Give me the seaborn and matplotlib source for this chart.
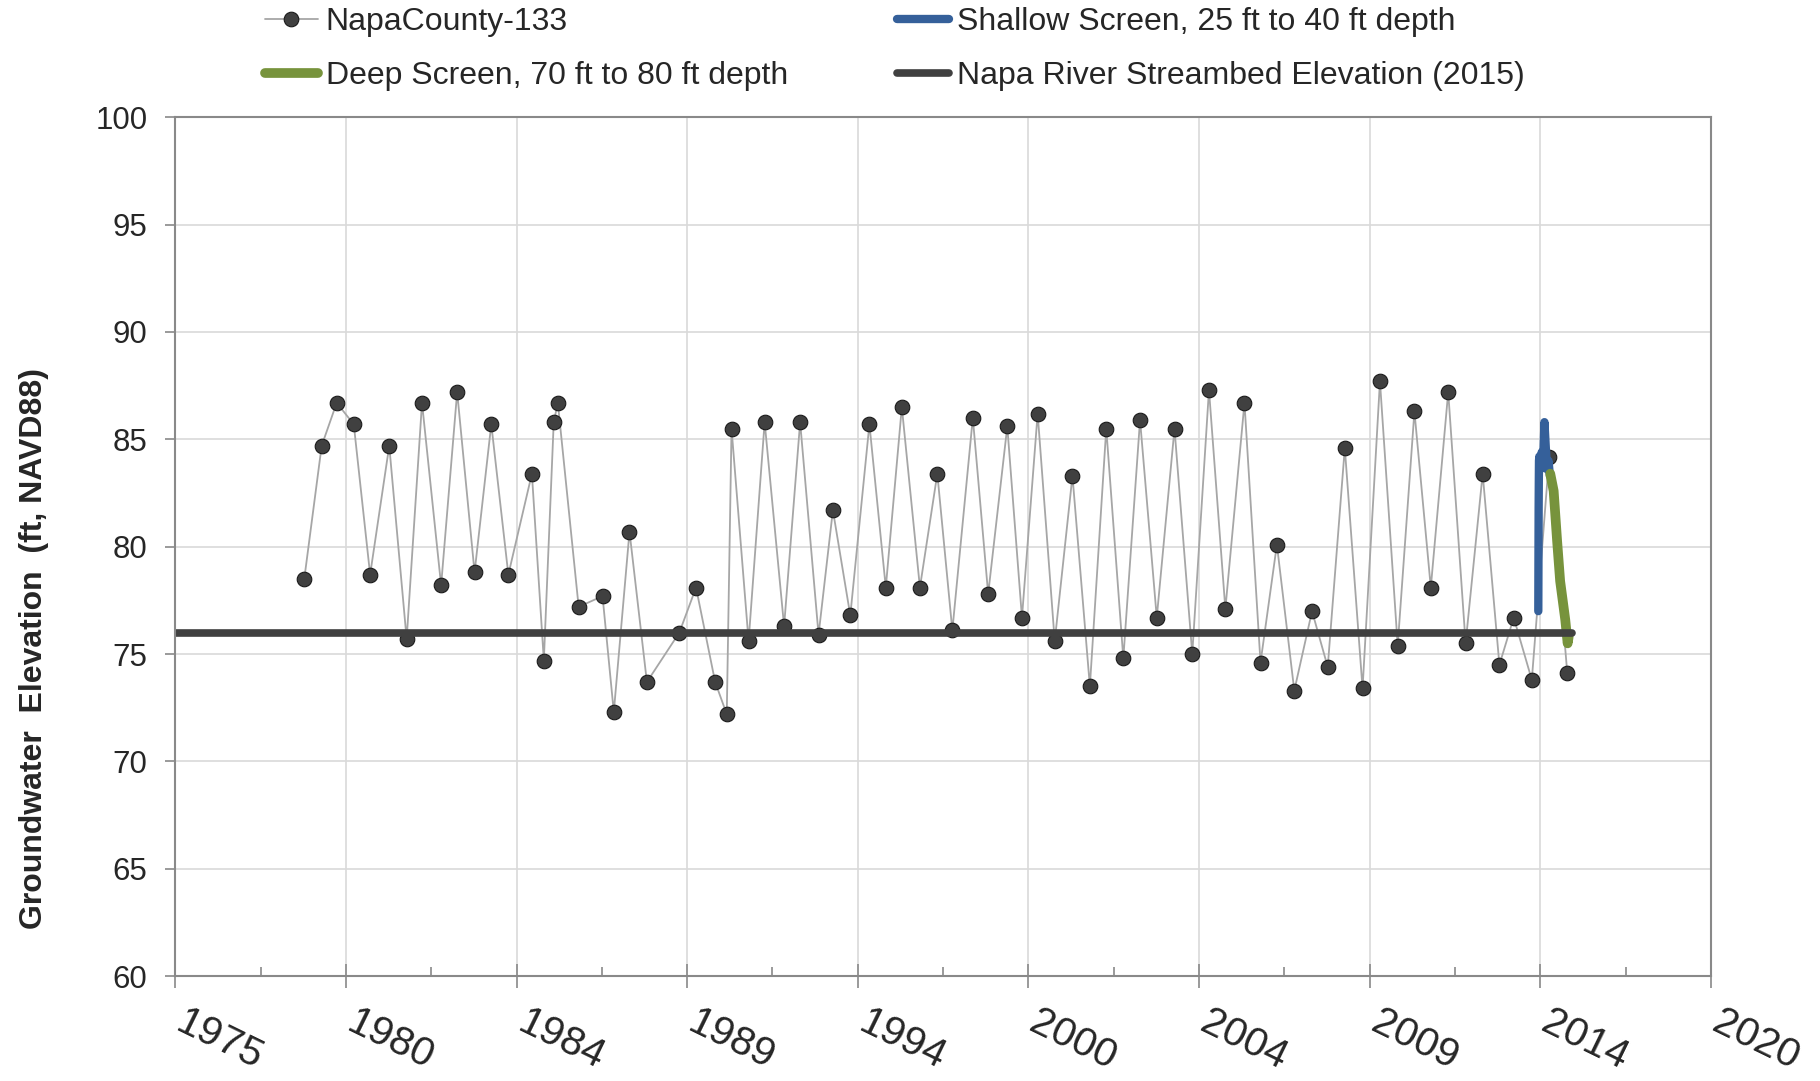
import numpy as np
import seaborn as sns
import matplotlib
matplotlib.use('Agg')
import matplotlib.pyplot as plt
import matplotlib.transforms as mtransforms
from matplotlib.ticker import MultipleLocator

# NapaCounty-133 manual measurements (decimal year, ft NAVD88)
well_years = [1978.78, 1979.29, 1979.73, 1980.23, 1980.71, 1981.27, 1981.78, 1982.23, 1982.79, 1983.26,
              1983.77, 1984.26, 1984.76, 1985.45, 1985.80, 1986.09, 1986.21, 1986.82, 1987.52, 1987.85,
              1988.31, 1988.82, 1989.77, 1990.26, 1990.82, 1991.16, 1991.30, 1991.80, 1992.27, 1992.84,
              1993.31, 1993.85, 1994.27, 1994.78, 1995.34, 1995.82, 1996.29, 1996.82, 1997.33, 1997.77,
              1998.37, 1998.82, 1999.38, 1999.81, 2000.27, 2000.77, 2001.29, 2001.80, 2002.28, 2002.78,
              2003.27, 2003.76, 2004.28, 2004.80, 2005.29, 2005.77, 2006.33, 2006.80, 2007.28, 2007.79,
              2008.31, 2008.77, 2009.27, 2009.79, 2010.30, 2010.82, 2011.31, 2011.79, 2012.30, 2012.81,
              2013.31, 2013.80, 2014.22, 2014.75, 2015.26, 2015.79]
well_elev = [78.5, 84.7, 86.7, 85.7, 78.7, 84.7, 75.7, 86.7, 78.2, 87.2,
             78.8, 85.7, 78.7, 83.4, 74.7, 85.8, 86.7, 77.2, 77.7, 72.3,
             80.7, 73.7, 76.0, 78.1, 73.7, 72.2, 85.5, 75.6, 85.8, 76.3,
             85.8, 75.9, 81.7, 76.8, 85.7, 78.1, 86.5, 78.1, 83.4, 76.1,
             86.0, 77.8, 85.6, 76.7, 86.2, 75.6, 83.3, 73.5, 85.5, 74.8,
             85.9, 76.7, 85.5, 75.0, 87.3, 77.1, 86.7, 74.6, 80.1, 73.3,
             77.0, 74.4, 84.6, 73.4, 87.7, 75.4, 86.3, 78.1, 87.2, 75.5,
             83.4, 74.5, 76.7, 73.8, 84.2, 74.1]

# transducer records
shallow_years = [2014.94, 2014.945, 2014.95, 2014.955, 2014.96, 2014.97, 2015.00, 2015.04, 2015.08,
                 2015.12, 2015.16, 2015.20, 2015.24, 2015.28]
shallow_elev = [77.0, 79.5, 81.8, 83.0, 84.0, 84.2, 83.6, 84.4, 83.8, 85.8, 84.6, 83.6, 84.0, 83.3]
deep_years = [2015.29, 2015.39, 2015.49, 2015.58, 2015.68, 2015.73, 2015.80, 2015.83]
deep_elev = [83.4, 82.6, 80.3, 78.4, 77.2, 76.6, 75.5, 75.8]

streambed_years = [1975.0, 2015.92]
streambed_elev = [76.0, 76.0]

x_tick_labels = ['1975', '1980', '1984', '1989', '1994', '2000', '2004', '2009', '2014', '2020']

sns.set_theme(style='white')
plt.rcParams['font.family'] = ['Liberation Sans', 'DejaVu Sans']

fig = plt.figure(figsize=(18.2, 10.81), dpi=100)
ax = fig.add_axes([0.0963, 0.0969, 0.8438, 0.7947])

sns.lineplot(x=well_years, y=well_elev, ax=ax, color='#a6a6a6', linewidth=1.3,
             marker='o', markersize=10.5, markerfacecolor='#404040',
             markeredgecolor='#1a1a1a', markeredgewidth=0.8, label='NapaCounty-133')
sns.lineplot(x=shallow_years, y=shallow_elev, ax=ax, color='#35609a', linewidth=6,
             solid_capstyle='round', solid_joinstyle='round',
             label='Shallow Screen, 25 ft to 40 ft depth')
sns.lineplot(x=deep_years, y=deep_elev, ax=ax, color='#77933c', linewidth=7,
             solid_capstyle='round', solid_joinstyle='round',
             label='Deep Screen, 70 ft to 80 ft depth')
sns.lineplot(x=streambed_years, y=streambed_elev, ax=ax, color='#404040', linewidth=5.5,
             solid_capstyle='round', label='Napa River Streambed Elevation (2015)')

# axes
ax.set_xlim(1975, 2020)
ax.set_ylim(60, 100)
ax.set_xticks(np.arange(1975, 2021, 5))
ax.set_xticklabels(x_tick_labels, rotation=-26, ha='left', va='top',
                   rotation_mode='anchor', fontsize=29.5)
ax.xaxis.set_minor_locator(MultipleLocator(2.5))
ax.set_yticks(np.arange(60, 101, 5))
ax.tick_params(axis='y', labelsize=22.5, direction='out', length=7, width=1.2,
               color='#898989', pad=13, left=True)
ax.tick_params(axis='x', which='major', direction='inout', length=17, width=1.2,
               color='#898989', pad=11, bottom=True)
ax.tick_params(axis='x', which='minor', direction='in', length=6.5, width=1.2,
               color='#898989', bottom=True)

# nudge the slanted year labels right, as in the source
shift = mtransforms.ScaledTranslation(12 / 100, 0, fig.dpi_scale_trans)
for lbl in ax.get_xticklabels():
    lbl.set_transform(lbl.get_transform() + shift)

ax.grid(True, which='major', color='#d9d9d9', linewidth=1.2)
ax.set_axisbelow(True)
for s in ax.spines.values():
    s.set_color('#898989')
    s.set_linewidth(1.5)

ax.set_xlabel('')
ax.set_ylabel('Groundwater  Elevation  (ft, NAVD88)', fontsize=23, fontweight='bold')
ax.yaxis.set_label_coords(-0.082, 0.381)

handles, labels = ax.get_legend_handles_labels()
order = [0, 2, 1, 3]
leg = ax.legend([handles[i] for i in order], [labels[i] for i in order], ncol=2,
                loc='upper left', bbox_to_anchor=(265 / 1820, 1 - 7 / 1081),
                bbox_transform=fig.transFigure, frameon=False, fontsize=23,
                handlelength=1.65, handletextpad=0.25, columnspacing=3.4,
                labelspacing=0.75, borderpad=0, borderaxespad=0)

fig.savefig('out.png', dpi=100)
